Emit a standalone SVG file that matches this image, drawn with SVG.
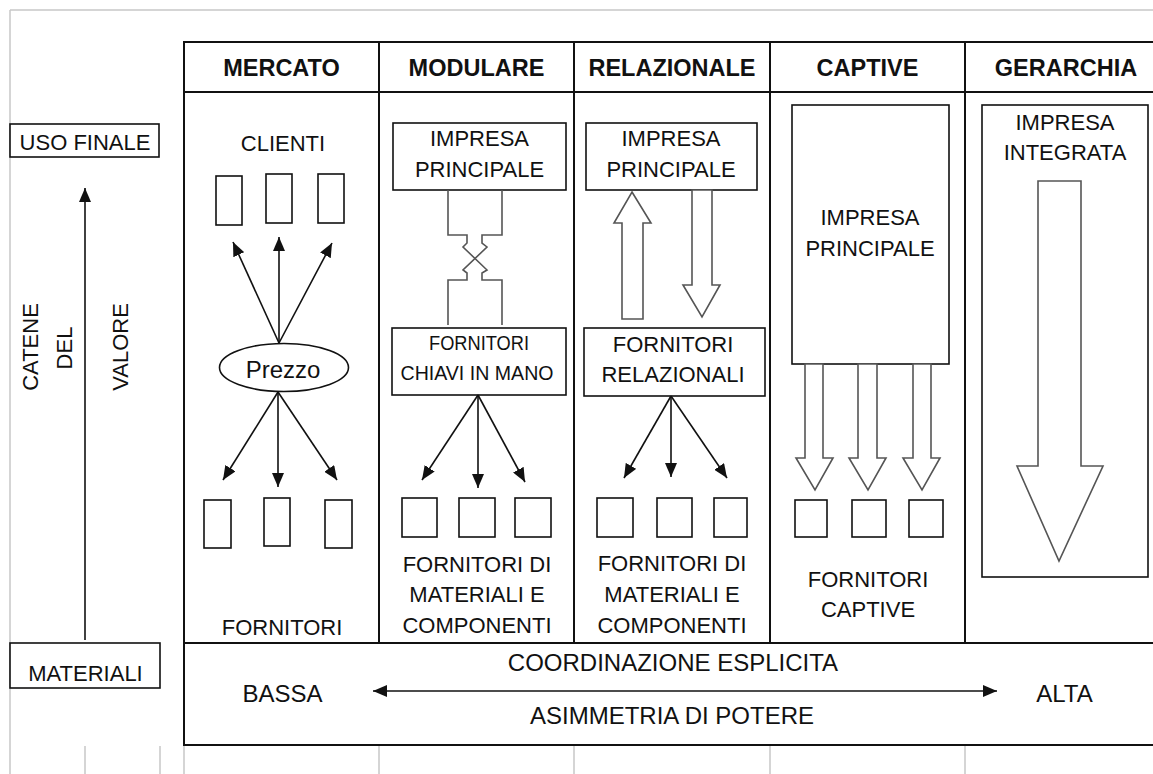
<svg xmlns="http://www.w3.org/2000/svg" width="1153" height="774" viewBox="0 0 1153 774">
<style>
.t{font-family:"Liberation Sans",Arial,sans-serif;font-size:22px;fill:#111;text-anchor:middle}
.h{font-weight:bold;font-size:23.5px}
.b{font-size:24px}
.p{font-size:24px}
.s{font-size:20px}
.grid{stroke:#c8c8c8;stroke-width:1.5;fill:none}
.ln{stroke:#111;stroke-width:2;fill:none}
.box{fill:#fff;stroke:#111;stroke-width:1.6}
.blk{fill:#fff;stroke:#555;stroke-width:1.6;stroke-linejoin:miter}
.blkn{fill:none;stroke:#555;stroke-width:1.6;stroke-linejoin:miter}
.arr{stroke:#111;stroke-width:1.6;fill:none;marker-end:url(#ah)}
</style>
<defs>
<marker id="ah" viewBox="0 0 14 12" refX="14" refY="6" markerWidth="14" markerHeight="12" markerUnits="userSpaceOnUse" orient="auto-start-reverse">
<path d="M0,0 L14,6 L0,12 z" fill="#111"/>
</marker>
</defs>
<rect width="1153" height="774" fill="#fff"/>
<g id="grid">
<path class="grid" d="M10,10 H1153 M10,10 V774 M85,746 V774 M160,746 V774 M184,746 V774 M379,746 V774 M574,746 V774 M770,746 V774 M965,746 V774"/>
</g>
<g id="table">
<rect class="ln" x="184" y="42" width="980" height="601"/>
<path class="ln" d="M184,92 H1164 M379,42 V643 M574,42 V643 M770,42 V643 M965,42 V643"/>
<rect class="ln" x="184" y="643" width="980" height="102"/>
<text class="t h" x="281.5" y="76">MERCATO</text>
<text class="t h" x="476.5" y="76">MODULARE</text>
<text class="t h" x="672" y="76">RELAZIONALE</text>
<text class="t h" x="867.5" y="76">CAPTIVE</text>
<text class="t h" x="1066" y="76">GERARCHIA</text>
</g>
<g id="uso-finale">
<rect class="box" x="10" y="124" width="149" height="33"/>
<text class="t" x="85" y="150">USO FINALE</text>
</g>
<g id="materiali">
<rect class="box" x="10" y="643" width="150" height="45"/>
<text class="t" x="85.5" y="681">MATERIALI</text>
</g>
<g id="catene-label">
<text class="t" transform="translate(38,347) rotate(-90)">CATENE</text>
<text class="t" transform="translate(72,348) rotate(-90)">DEL</text>
<text class="t" transform="translate(128,347) rotate(-90)">VALORE</text>
</g>
<g id="mercato">
<text class="t" x="283" y="151">CLIENTI</text>
<rect class="box" x="216" y="176" width="26" height="49"/>
<rect class="box" x="266" y="174" width="26" height="49"/>
<rect class="box" x="318" y="174" width="26" height="49"/>
<ellipse class="box" cx="284" cy="367.5" rx="64.5" ry="24"/>
<text class="t p" x="283" y="378">Prezzo</text>
<rect class="box" x="204" y="500" width="27" height="48"/>
<rect class="box" x="264" y="498" width="26" height="48"/>
<rect class="box" x="325" y="500" width="27" height="48"/>
<text class="t" x="282" y="635">FORNITORI</text>
</g>
<g id="modulare">
<rect class="box" x="393" y="123" width="173" height="67"/>
<text class="t" x="479.5" y="146">IMPRESA</text>
<text class="t" x="479.5" y="177">PRINCIPALE</text>
<path class="blkn" d="M448,190 V235 H467 V243 L463,247 L487,270 L482,273 V280 H502 V325"/>
<path class="blkn" d="M502,190 V235 H482 V243 L487,247 L463,270 L467,273 V280 H448 V325"/>
<rect class="box" x="392" y="328" width="174" height="67"/>
<text class="t s" x="479" y="350" textLength="100" lengthAdjust="spacingAndGlyphs">FORNITORI</text>
<text class="t s" x="477" y="380" textLength="153" lengthAdjust="spacingAndGlyphs">CHIAVI IN MANO</text>
<rect class="box" x="402" y="498" width="35" height="39"/>
<rect class="box" x="459" y="498" width="36" height="39"/>
<rect class="box" x="515" y="498" width="36" height="39"/>
<text class="t" x="477" y="572">FORNITORI DI</text>
<text class="t" x="477" y="602">MATERIALI E</text>
<text class="t" x="477" y="633">COMPONENTI</text>
</g>
<g id="relazionale">
<rect class="box" x="586" y="123" width="171" height="67"/>
<text class="t" x="671" y="146">IMPRESA</text>
<text class="t" x="671" y="177">PRINCIPALE</text>
<polygon class="blk" points="632,192 651,223 643,223 643,319 622,319 622,223 614,223"/>
<polygon class="blk" points="692,190 712,190 712,285 720,285 702,317 683,285 692,285"/>
<rect class="box" x="584" y="328" width="181" height="68"/>
<text class="t" x="673" y="352">FORNITORI</text>
<text class="t" x="673" y="382">RELAZIONALI</text>
<rect class="box" x="597" y="498" width="36" height="39"/>
<rect class="box" x="657" y="498" width="35" height="39"/>
<rect class="box" x="714" y="498" width="33" height="39"/>
<text class="t" x="672" y="571">FORNITORI DI</text>
<text class="t" x="672" y="602">MATERIALI E</text>
<text class="t" x="672" y="633">COMPONENTI</text>
</g>
<g id="captive">
<rect class="box" x="792" y="105" width="157" height="259"/>
<text class="t" x="870" y="225">IMPRESA</text>
<text class="t" x="870" y="256">PRINCIPALE</text>
<polygon class="blk" points="805,364 823,364 823,458 833,458 815,490 796,458 805,458"/>
<polygon class="blk" points="858,364 877,364 877,458 886,458 868,490 849,458 858,458"/>
<polygon class="blk" points="913,364 931,364 931,458 940,458 922,490 903,458 913,458"/>
<rect class="box" x="795" y="500" width="32" height="37"/>
<rect class="box" x="852" y="500" width="34" height="37"/>
<rect class="box" x="909" y="500" width="34" height="37"/>
<text class="t" x="868" y="587">FORNITORI</text>
<text class="t" x="868" y="617">CAPTIVE</text>
</g>
<g id="gerarchia">
<rect class="box" x="982" y="105" width="166" height="472"/>
<text class="t" x="1065" y="130">IMPRESA</text>
<text class="t" x="1065" y="160">INTEGRATA</text>
<polygon class="blk" points="1038,181 1081,181 1081,466 1103,466 1059,561 1017,466 1038,466"/>
</g>
<g id="scala">
<text class="t b" x="673" y="671">COORDINAZIONE ESPLICITA</text>
<text class="t b" x="672" y="724">ASIMMETRIA DI POTERE</text>
<text class="t b" x="282.5" y="702">BASSA</text>
<text class="t b" x="1064.5" y="702">ALTA</text>
</g>
<g id="connectors">
<line class="arr" x1="85" y1="640" x2="85" y2="188" stroke="#444"/>
<line class="arr" x1="279" y1="343" x2="233" y2="242"/>
<line class="arr" x1="279" y1="343" x2="279" y2="237"/>
<line class="arr" x1="279" y1="343" x2="332" y2="243"/>
<line class="arr" x1="278" y1="392" x2="223" y2="480"/>
<line class="arr" x1="278" y1="392" x2="278" y2="487"/>
<line class="arr" x1="278" y1="392" x2="337" y2="480"/>
<line class="arr" x1="478" y1="395" x2="422" y2="480"/>
<line class="arr" x1="478" y1="395" x2="478" y2="488"/>
<line class="arr" x1="478" y1="395" x2="525" y2="482"/>
<line class="arr" x1="671" y1="396" x2="624" y2="478"/>
<line class="arr" x1="671" y1="396" x2="671" y2="477"/>
<line class="arr" x1="671" y1="396" x2="727" y2="478"/>
<line class="arr" x1="373" y1="691" x2="997" y2="691" marker-start="url(#ah)"/>
</g>
</svg>
